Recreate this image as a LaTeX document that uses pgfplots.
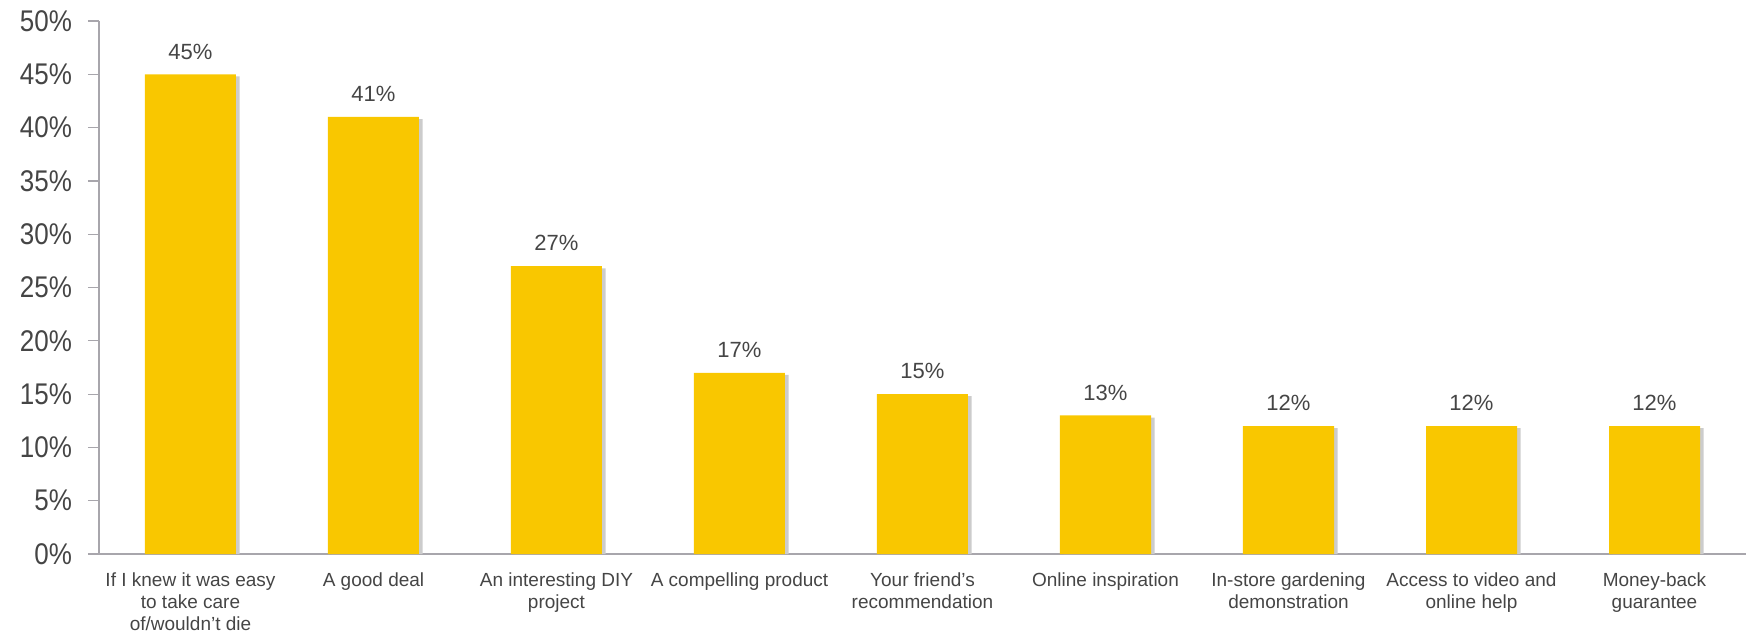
\documentclass[border=0pt]{standalone}
\usepackage{pgfplots}
\pgfplotsset{compat=1.18}
\usepackage{graphicx}
\usepackage{fontspec}
\setmainfont{Liberation Sans}
\definecolor{baryellow}{HTML}{F9C700}
\definecolor{txtgray}{HTML}{454545}
\definecolor{axgray}{HTML}{A8A6AC}
\begin{document}
\begin{tikzpicture}
\useasboundingbox (-49.5pt,-39pt) rectangle (826.5pt,277pt);
\begin{axis}[
  at={(0pt,0pt)}, anchor=south west,
  scale only axis,
  width=823.5pt, height=266.5pt,
  xmin=-0.5, xmax=8.5,
  ymin=0, ymax=50,
  ytick={0,5,...,50},
  yticklabel={\scalebox{1}[1.15]{\pgfmathprintnumber{\tick}\%}},
  /pgf/number format/assume math mode=true,
  y tick label style={font=\fontsize{13}{15}\selectfont, text=txtgray, xshift=-4.5pt},
  xtick={0,...,8},
  xticklabels={{If I knew it was easy\\to take care\\of/wouldn't die},{A good deal},{An interesting DIY\\project},{A compelling product},{Your friend's\\recommendation},{Online inspiration},{In-store gardening\\demonstration},{Access to video and\\online help},{Money-back\\guarantee}},
  x tick label style={font=\fontsize{9.5}{11}\selectfont, text=txtgray, align=center, anchor=north, yshift=-0.5pt},
  major x tick style={draw=none},
  extra x ticks={-0.5,0.5,1.5,2.5,3.5,4.5,5.5,6.5,7.5,8.5},
  extra x tick labels={},
  extra x tick style={tick style={draw=axgray, line width=0.6pt}},
  tick align=outside,
  major tick length=5.5pt,
  tick style={draw=axgray, line width=0.6pt},
  axis x line*=bottom,
  axis y line*=left,
  axis line style={draw=axgray, line width=0.8pt, -},
  ybar,
  bar width=45.5pt,
  clip=false,
]
\addplot[fill=black!20, draw=none, bar shift=1.8pt] coordinates {
(0,44.8) (1,40.8) (2,26.8) (3,16.8) (4,14.8) (5,12.8) (6,11.8) (7,11.8) (8,11.8)};
\addplot[fill=baryellow, draw=none, bar shift=0pt,
  nodes near coords={\pgfmathprintnumber{\pgfplotspointmeta}\%},
  nodes near coords style={font=\fontsize{11}{12}\selectfont, text=txtgray, yshift=4pt}] coordinates {
(0,45) (1,41) (2,27) (3,17) (4,15) (5,13) (6,12) (7,12) (8,12)};
\end{axis}
\end{tikzpicture}
\end{document}
